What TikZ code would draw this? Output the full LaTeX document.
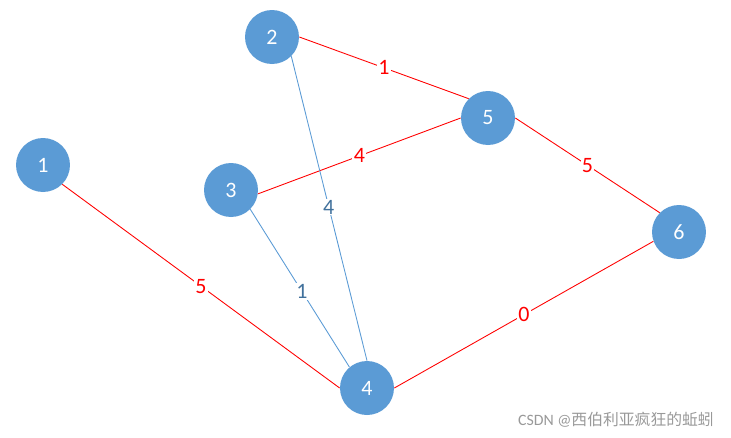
\documentclass[tikz,border=0pt]{standalone}
\usepackage{fontspec}
\setmainfont{Carlito}
\newfontfamily\cjkfont{Noto Sans CJK SC}
\definecolor{nodeblue}{HTML}{5B9BD5}
\definecolor{labelblue}{HTML}{41719C}
\begin{document}
\begin{tikzpicture}[
  x=0.02cm, y=-0.02cm,
  vertex/.style={circle, fill=nodeblue, text=white, minimum size=1.08cm,
    inner sep=0pt, font=\fontsize{12.5}{14}\selectfont},
  redge/.style={draw=red, line width=0.5pt},
  bedge/.style={draw=nodeblue, line width=0.5pt},
  wlabel/.style={fill=white, inner sep=0.8pt, font=\fontsize{12.5}{14}\selectfont}
]
\useasboundingbox (0,0) rectangle (731,437);
\node[vertex] (v1) at (43,165) {1};
\node[vertex] (v2) at (272,37) {2};
\node[vertex] (v3) at (231,190) {3};
\node[vertex] (v4) at (367,388) {4};
\node[vertex] (v5) at (488,118) {5};
\node[vertex] (v6) at (679,232) {6};
\draw[redge] (v1.-45) -- node[wlabel, text=red] {5} (v4.180);
\draw[redge] (v2.0) -- node[wlabel, text=red] {1} (v5.135);
\draw[redge] (v3.-8) -- node[wlabel, text=red] {4} (v5.180);
\draw[redge] (v5.0) -- node[wlabel, text=red] {5} (v6.135);
\draw[redge] (v4.0) -- node[wlabel, text=red] {0} (v6.200);
\draw[bedge] (v2.-45) -- node[wlabel, text=labelblue, pos=0.495] {4} (v4.90);
\draw[bedge] (v3.-45) -- node[wlabel, text=labelblue, pos=0.52] {1} (v4.130);
\node[text=black!40, font=\fontsize{9}{11}\selectfont, anchor=east] (mark) at (720,420)
  {CSDN @\cjkfont 西伯利亚疯狂的蚯蚓};
\end{tikzpicture}
\end{document}
